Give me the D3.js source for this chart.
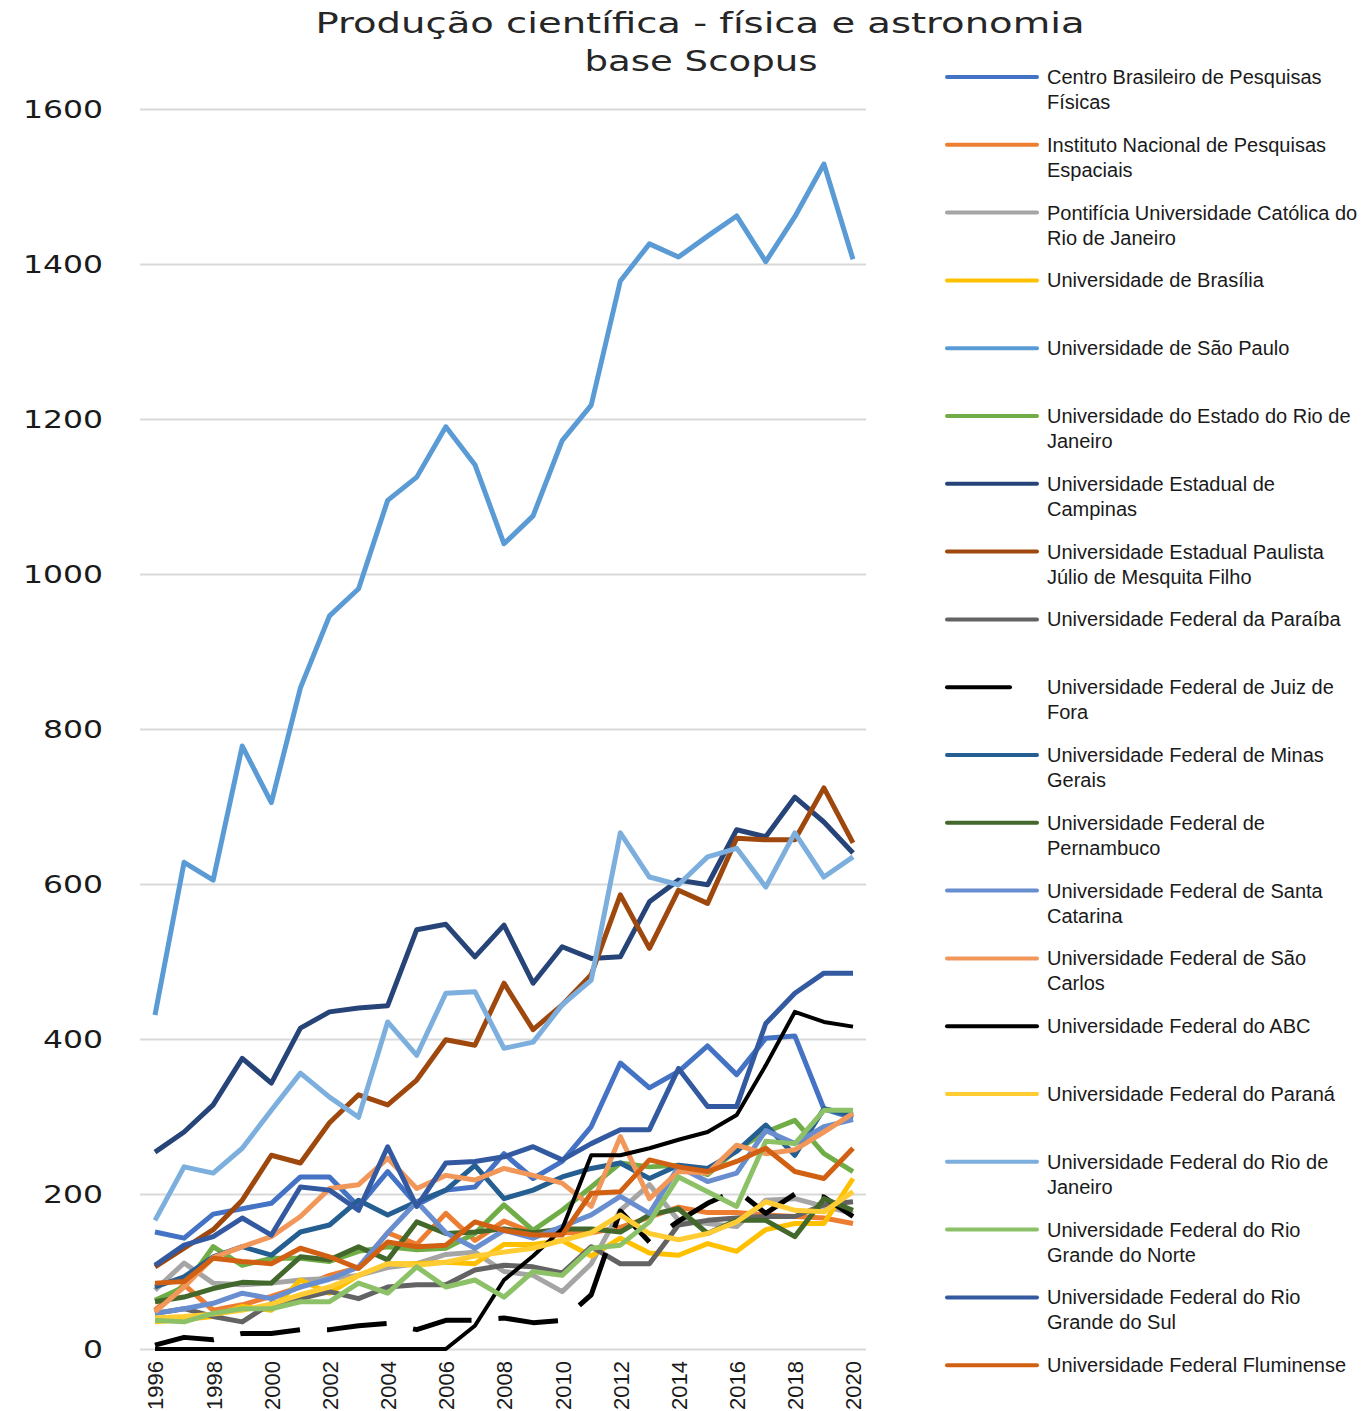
<!DOCTYPE html>
<html>
<head>
<meta charset="utf-8">
<script src="https://cdn.jsdelivr.net/npm/d3@7"></script>
<style>
  body { margin: 0; background: #fff; }
  svg { display: block; }
</style>
</head>
<body>
<svg id="chart" width="1369" height="1411"></svg>
<script>
// Load the SVG element that holds the chart
var svg = d3.select("#chart"),
    width = +svg.attr("width"),
    height = +svg.attr("height");

// %%%%%%%%%%%%%%%%%%%%
// % Data             %
// %%%%%%%%%%%%%%%%%%%%

var years = d3.range(1996, 2021);
var yTicks = [0, 200, 400, 600, 800, 1000, 1200, 1400, 1600];
var xTicks = years.filter(function (d) { return d % 2 === 0; });

var names = [
    ["Centro Brasileiro de Pesquisas", "Físicas"],
    ["Instituto Nacional de Pesquisas", "Espaciais"],
    ["Pontifícia Universidade Católica do", "Rio de Janeiro"],
    ["Universidade de Brasília"],
    ["Universidade de São Paulo"],
    ["Universidade do Estado do Rio de", "Janeiro"],
    ["Universidade Estadual de", "Campinas"],
    ["Universidade Estadual Paulista", "Júlio de Mesquita Filho"],
    ["Universidade Federal da Paraíba"],
    ["Universidade Federal de Juiz de", "Fora"],
    ["Universidade Federal de Minas", "Gerais"],
    ["Universidade Federal de", "Pernambuco"],
    ["Universidade Federal de Santa", "Catarina"],
    ["Universidade Federal de São", "Carlos"],
    ["Universidade Federal do ABC"],
    ["Universidade Federal do Paraná"],
    ["Universidade Federal do Rio de", "Janeiro"],
    ["Universidade Federal do Rio", "Grande do Norte"],
    ["Universidade Federal do Rio", "Grande do Sul"],
    ["Universidade Federal Fluminense"]
];

var colors = ["#4472C4", "#ED7D31", "#A5A5A5", "#FFC000", "#5B9BD5", "#70AD47",
    "#264478", "#9E480E", "#636363", "#000000", "#255E91", "#43682B",
    "#698ED0", "#F1975A", "#000000", "#FFCD33", "#7CAFDD", "#8CC168",
    "#335AA1", "#D26012"];

// values 1996 .. 2020
var cbpf   = [151,143,174,181,188,222,222,184,229,186,205,209,252,220,242,287,369,337,358,391,354,401,404,310,298];
var inpe   = [50,83,50,57,68,80,95,105,150,135,175,140,165,150,150,150,157,170,183,176,176,173,171,169,162];
var puc    = [76,111,85,83,85,89,91,95,105,110,122,125,100,95,74,110,179,212,166,162,158,192,194,184,175];
var unb    = [35,38,42,55,50,89,72,95,110,110,112,110,135,135,140,120,143,124,121,136,126,154,162,162,220];
var usp    = [431,628,605,778,705,853,946,981,1095,1125,1190,1141,1039,1075,1172,1218,1378,1426,1409,1436,1462,1403,1461,1529,1406];
var uerj   = [63,80,132,108,117,117,113,126,132,128,130,149,186,153,179,209,240,235,237,225,257,280,295,252,229];
var unicamp= [254,280,315,375,343,414,435,440,443,541,548,506,547,472,519,504,506,577,605,599,670,661,712,680,640];
var unesp  = [106,130,154,192,250,240,292,328,315,347,399,392,472,412,444,483,586,517,592,575,659,657,657,724,653];
var ufpb   = [46,52,42,35,59,65,74,65,80,83,83,102,108,106,98,132,110,110,160,166,169,171,171,186,190];
var ufjf   = [5,15,12,20,20,25,25,30,33,25,37,37,40,34,37,70,178,138,165,188,205,175,200,196,171];
var ufmg   = [80,93,119,132,121,151,160,192,173,190,205,237,194,205,222,233,240,220,237,233,255,289,250,310,302];
var ufpe   = [61,67,78,86,85,119,115,132,115,164,149,151,155,150,155,155,151,173,181,149,166,166,145,194,179];
var ufsc   = [46,52,59,72,65,80,90,106,150,190,150,130,153,143,158,173,197,175,235,216,227,282,265,287,296];
var ufscar = [48,80,118,132,145,171,207,212,246,207,224,218,233,224,214,184,274,194,229,227,263,252,257,280,304];
var ufabc  = [0,0,0,0,0,0,0,0,0,0,0,30,89,120,155,250,250,259,270,280,302,366,435,422,416];
var ufpr   = [40,42,45,50,58,70,80,95,110,108,112,120,125,130,140,150,173,149,141,149,164,190,179,177,203];
var ufrj   = [166,235,227,259,308,356,325,299,422,379,459,461,388,396,444,476,666,609,599,635,646,596,666,609,635];
var ufrn   = [37,35,46,52,52,61,61,85,72,106,80,89,67,100,95,130,134,164,222,203,184,268,265,308,308];
var ufrgs  = [108,134,145,169,147,209,205,179,261,184,240,242,248,261,244,265,283,283,362,313,313,420,459,485,485];
var uff    = [85,87,117,113,110,130,119,104,138,132,134,164,153,147,147,201,203,244,235,229,242,259,229,220,259];

var values = [cbpf, inpe, puc, unb, usp, uerj, unicamp, unesp, ufpb, ufjf,
    ufmg, ufpe, ufsc, ufscar, ufabc, ufpr, ufrj, ufrn, ufrgs, uff];

var series = names.map(function (n, i) {
    return { name: n, color: colors[i], dashed: i === 9, values: values[i] };
});

// %%%%%%%%%%%%%%%%%%%%
// % Scales & axes    %
// %%%%%%%%%%%%%%%%%%%%

var x = d3.scaleLinear().domain([1996, 2020]).range([155, 853]);
var y = d3.scaleLinear().domain([0, 1600]).range([1349, 109]);

// y axis with gridlines
var yAxis = svg.append("g")
    .attr("transform", "translate(140,0)")
    .call(d3.axisLeft(y).tickValues(yTicks).tickSize(-726).tickPadding(37).tickFormat(d3.format("d")));
yAxis.select(".domain").remove();
yAxis.selectAll("line").attr("stroke", "#D9D9D9").attr("stroke-width", 2);
// the picture is stretched sideways, so the digits are too
yAxis.selectAll("text")
    .attr("font-family", "DejaVu Sans")
    .attr("font-size", 25)
    .attr("textLength", function (d) { return String(d).length * 20; })
    .attr("lengthAdjust", "spacingAndGlyphs")
    .attr("fill", "#1a1a1a");

// x axis, rotated year labels
var xAxis = svg.append("g")
    .attr("transform", "translate(0,1349)")
    .call(d3.axisBottom(x).tickValues(xTicks).tickSize(0).tickFormat(d3.format("d")));
xAxis.select(".domain").remove();
xAxis.selectAll("text")
    .attr("transform", "rotate(-90)")
    .attr("text-anchor", "end")
    .attr("x", -12)
    .attr("y", 0)
    .attr("dy", "0.36em")
    .attr("font-family", "Liberation Sans")
    .attr("font-size", 22)
    .attr("fill", "#1a1a1a");

// %%%%%%%%%%%%%%%%%%%%
// % Lines            %
// %%%%%%%%%%%%%%%%%%%%

var line = d3.line()
    .x(function (d, i) { return x(years[i]); })
    .y(function (d) { return y(d); });

svg.append("g")
    .selectAll("path")
    .data(series)
    .enter()
    .append("path")
    .attr("d", function (d) { return line(d.values); })
    .attr("fill", "none")
    .attr("stroke", function (d) { return d.color; })
    .attr("stroke-width", function (d, i) { return i === 14 ? 4 : 5; })
    .attr("stroke-linejoin", "round")
    .attr("stroke-dasharray", function (d) { return d.dashed ? "60,27" : null; });

// %%%%%%%%%%%%%%%%%%%%
// % Title            %
// %%%%%%%%%%%%%%%%%%%%

var title = svg.append("g")
    .attr("font-family", "DejaVu Sans")
    .attr("font-size", 29)
    .attr("fill", "#262626")
    .attr("text-anchor", "middle");
title.append("text").attr("x", 700).attr("y", 33)
    .attr("textLength", 769).attr("lengthAdjust", "spacingAndGlyphs")
    .text("Produção científica - física e astronomia");
title.append("text").attr("x", 701).attr("y", 71)
    .attr("textLength", 233).attr("lengthAdjust", "spacingAndGlyphs")
    .text("base Scopus");

// %%%%%%%%%%%%%%%%%%%%
// % Legend           %
// %%%%%%%%%%%%%%%%%%%%

var legend = svg.append("g")
    .selectAll("g")
    .data(series)
    .enter()
    .append("g")
    .attr("transform", function (d, i) { return "translate(947," + (77 + i * 67.8) + ")"; });

legend.append("line")
    .attr("x1", 0)
    .attr("x2", function (d) { return d.dashed ? 63 : 90; })
    .attr("stroke", function (d) { return d.color; })
    .attr("stroke-width", 4)
    .attr("stroke-linecap", "round");

legend.append("text")
    .attr("x", 100)
    .attr("y", 7)
    .attr("font-family", "Liberation Sans")
    .attr("font-size", 20)
    .attr("letter-spacing", "0px")
    .attr("fill", "#1a1a1a")
    .selectAll("tspan")
    .data(function (d) { return d.name; })
    .enter()
    .append("tspan")
    .attr("x", 100)
    .attr("dy", function (d, i) { return i === 0 ? 0 : 25; })
    .text(function (d) { return d; });
</script>
</body>
</html>
